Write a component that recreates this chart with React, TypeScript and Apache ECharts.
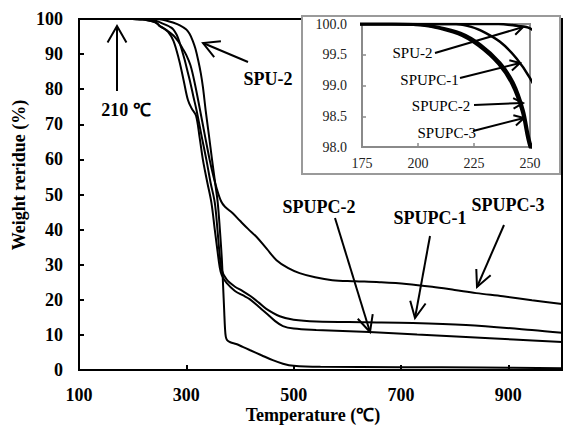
import React, { useEffect, useRef } from "react";
import * as echarts from "echarts";

// ---- Data (temperature in °C, weight residue in %) ----
const spu2T = [100, 236, 244, 250, 262, 275, 288, 300, 306, 312, 317, 322, 327, 331, 336, 342, 348, 353.5, 358.5, 362.5, 366, 368.5, 370.5, 372, 373.5, 376, 382, 393, 405, 418, 440, 461, 480, 500, 550, 700, 850, 1000];
const spu2W = [100, 100, 99.97, 99.93, 99.6, 99.0, 98.2, 97.0, 95.8, 93.8, 91.5, 88.3, 84.5, 80.5, 74, 67, 59.8, 53.5, 47.7, 40, 32, 24, 17, 12, 9.5, 8.5, 7.9, 7.4, 6.6, 5.7, 4.2, 2.8, 1.8, 1.2, 0.9, 0.8, 0.7, 0.5];

const spupc1T = [100, 217, 222, 227.7, 236.6, 244, 250, 262, 270, 276, 282, 287, 292, 297, 303, 308, 313, 319, 328, 337.5, 345, 353, 358, 362, 366, 375, 390, 405, 420, 435, 449, 474, 500, 542, 635, 722, 821, 944, 1000];
const spupc1W = [100, 100, 99.97, 99.9, 99.71, 99.44, 99.12, 98.3, 97.7, 97.0, 95.5, 93.5, 91.0, 88.3, 84.6, 81.5, 78, 74, 67, 59.8, 53.5, 47.7, 40, 33, 28.5, 25.8, 23.8, 22.5, 21, 19.2, 17.4, 15.3, 14.3, 13.8, 13.6, 13.4, 12.8, 11.4, 10.6];

const spupc2T = [100, 190, 200, 207, 219, 228, 236.6, 242.5, 247, 250, 258, 266, 276, 286.5, 295, 303, 310, 318, 325, 331, 339, 346.7, 353, 358, 362, 366, 375, 390, 405, 418, 435, 449, 465, 480, 500, 542, 641, 730, 821, 910, 1000];
const spupc2W = [100, 100, 99.99, 99.96, 99.85, 99.66, 99.37, 99.05, 98.6, 98.08, 97.3, 96.3, 93.8, 88.3, 82.5, 76.9, 74.5, 72.5, 66, 59.8, 53.5, 47.7, 40, 34, 29.5, 27, 24.8, 22.6, 21.3, 20.2, 18, 16.2, 14, 12.5, 11.8, 11.4, 10.8, 10.1, 9.4, 8.7, 8.0];

const spupc3T = [100, 188, 198, 206, 218, 227, 236, 242, 246.5, 250, 258, 266, 276, 285, 293, 300, 307.7, 316, 325, 335, 343.6, 350, 357, 365, 372, 386, 400, 415, 431, 450, 468, 490, 511, 540, 572, 615, 660, 710, 758, 800, 840, 890, 944, 1000];
const spupc3W = [100, 100, 99.99, 99.96, 99.84, 99.65, 99.35, 99.02, 98.58, 98.0, 97.3, 96.5, 95.3, 93.6, 91.6, 89.7, 86.8, 81.5, 74.5, 66.5, 59.8, 55.5, 51.5, 48, 46.5, 44.7, 42.5, 40.2, 37.9, 34.5, 31.3, 29, 27.6, 26.4, 25.6, 25.3, 25, 24.5, 23.7, 22.8, 21.9, 21, 19.9, 18.8];

const seriesNames = ["SPU-2", "SPUPC-1", "SPUPC-2", "SPUPC-3"];
const mainX = { min: 100, max: 1000, interval: 200 };
const mainY = { min: 0, max: 100, interval: 10 };
const insetX = { min: 175, max: 250, interval: 25 };
const insetY = { min: 98, max: 100, interval: 0.5 };

const FONT = "'Liberation Serif', 'Times New Roman', serif";

function zip(t: number[], w: number[]) {
  return t.map((x, i) => [x, w[i]]);
}

function arrow(x1: number, y1: number, x2: number, y2: number, len: number, ang: number, lw: number) {
  const a = Math.atan2(y1 - y2, x1 - x2);
  const w1 = [x2 + len * Math.cos(a + ang), y2 + len * Math.sin(a + ang)];
  const w2 = [x2 + len * Math.cos(a - ang), y2 + len * Math.sin(a - ang)];
  return [
    { type: "line", z: 100, shape: { x1, y1, x2, y2 }, style: { stroke: "#000", lineWidth: lw } },
    { type: "polyline", z: 100, shape: { points: [w1, [x2, y2], w2] }, style: { stroke: "#000", lineWidth: lw, fill: null } },
  ];
}

function txt(x: number, y: number, text: string, size: number, bold: boolean, rotation = 0) {
  return {
    type: "text",
    z: 100,
    x,
    y,
    rotation,
    style: {
      text,
      fill: "#000",
      font: `${bold ? "bold " : ""}${size}px ${FONT}`,
      align: "center",
      verticalAlign: "middle",
    },
  };
}

export default function App() {
  const ref = useRef<HTMLDivElement>(null);
  useEffect(() => {
    if (!ref.current) return;
    const chart = echarts.init(ref.current, undefined, { renderer: "svg" });
    const datasets = [zip(spu2T, spu2W), zip(spupc1T, spupc1W), zip(spupc2T, spupc2W), zip(spupc3T, spupc3W)];
    const mainSeries = datasets.map((d, i) => ({
      type: "line",
      name: seriesNames[i],
      data: d,
      xAxisIndex: 0,
      yAxisIndex: 0,
      symbol: "none",
      smooth: 0.35,
      lineStyle: { color: "#000", width: 2 },
      z: 3,
      silent: true,
    }));
    const insetSeries = datasets.map((d, i) => ({
      type: "line",
      name: seriesNames[i] + " (inset)",
      data: d,
      xAxisIndex: 1,
      yAxisIndex: 1,
      symbol: "none",
      smooth: 0.35,
      clip: true,
      lineStyle: { color: "#000", width: i === 0 || i === 1 ? 2.5 : 3 },
      z: 20,
      silent: true,
    }));
    const labelMain = { color: "#000", fontFamily: FONT, fontWeight: "bold", fontSize: 18 };
    const labelInset = { color: "#222", fontFamily: FONT, fontSize: 14 };
    const option: any = {
      animation: false,
      backgroundColor: "#fff",
      grid: [
        { left: 79, top: 19, right: 2, bottom: 56, show: true, borderColor: "#000", borderWidth: 2, z: 0 },
        { left: 362, top: 24, width: 168, height: 123, show: true, borderColor: "#8a8a8a", borderWidth: 2, backgroundColor: "#fff", z: 10 },
      ],
      xAxis: [
        {
          type: "value",
          gridIndex: 0,
          min: mainX.min,
          max: mainX.max,
          interval: mainX.interval,
          axisLine: { show: true, lineStyle: { color: "#000", width: 2 } },
          axisTick: { show: true, inside: true, length: 5, lineStyle: { color: "#000", width: 2 } },
          axisLabel: { ...labelMain, margin: 16, showMaxLabel: false },
          splitLine: { show: false },
        },
        {
          type: "value",
          gridIndex: 1,
          min: insetX.min,
          max: insetX.max,
          interval: insetX.interval,
          z: 11,
          axisLine: { show: true, lineStyle: { color: "#8a8a8a", width: 2 } },
          axisTick: { show: true, inside: true, length: 4, lineStyle: { color: "#8a8a8a", width: 1.5 } },
          axisLabel: { ...labelInset, margin: 9 },
          splitLine: { show: false },
        },
      ],
      yAxis: [
        {
          type: "value",
          gridIndex: 0,
          min: mainY.min,
          max: mainY.max,
          interval: mainY.interval,
          axisLine: { show: true, lineStyle: { color: "#000", width: 2 } },
          axisTick: { show: true, inside: true, length: 5, lineStyle: { color: "#000", width: 2 } },
          axisLabel: { ...labelMain, margin: 16 },
          splitLine: { show: false },
        },
        {
          type: "value",
          gridIndex: 1,
          min: insetY.min,
          max: insetY.max,
          interval: insetY.interval,
          z: 11,
          axisLine: { show: true, lineStyle: { color: "#8a8a8a", width: 2 } },
          axisTick: { show: true, inside: true, length: 4, lineStyle: { color: "#8a8a8a", width: 1.5 } },
          axisLabel: { ...labelInset, margin: 15, formatter: (v: number) => v.toFixed(1) },
          splitLine: { show: false },
        },
      ],
      graphic: [
        { type: "rect", z: 5, shape: { x: 302, y: 16, width: 258, height: 158 }, style: { fill: "#fff", stroke: "#9a9a9a", lineWidth: 2 } },
        txt(19, 175, "Weight reridue (%)", 18, true, Math.PI / 2),
        txt(313, 415, "Temperature (℃)", 18, true),
        txt(126, 110, "210 ℃", 18, true),
        ...arrow(117, 91, 117, 26, 19, 0.52, 2),
        txt(268, 79, "SPU-2", 18, true),
        ...arrow(248, 62, 203, 43, 18, 0.5, 2),
        txt(319, 207, "SPUPC-2", 18, true),
        ...arrow(335, 218, 370, 332, 18, 0.45, 2),
        txt(430, 218, "SPUPC-1", 18, true),
        ...arrow(430, 236, 415, 318, 18, 0.45, 2),
        txt(508, 205, "SPUPC-3", 18, true),
        ...arrow(504, 225, 477, 287, 18, 0.45, 2),
        txt(412.5, 53, "SPU-2", 15, false),
        ...arrow(435, 53, 523, 27, 11, 0.5, 2),
        txt(429.5, 80, "SPUPC-1", 15, false),
        ...arrow(460, 78, 520, 63, 11, 0.5, 2),
        txt(441, 106, "SPUPC-2", 15, false),
        ...arrow(474, 105, 523, 103, 11, 0.5, 2),
        txt(446.7, 132.5, "SPUPC-3", 15, false),
        ...arrow(473, 131, 524, 118, 11, 0.5, 2),
      ],
      series: [...mainSeries, ...insetSeries],
    };
    chart.setOption(option);
    return () => chart.dispose();
  }, []);
  return <div ref={ref} style={{ position: "fixed", left: 0, top: 0, width: 564, height: 426 }} />;
}
